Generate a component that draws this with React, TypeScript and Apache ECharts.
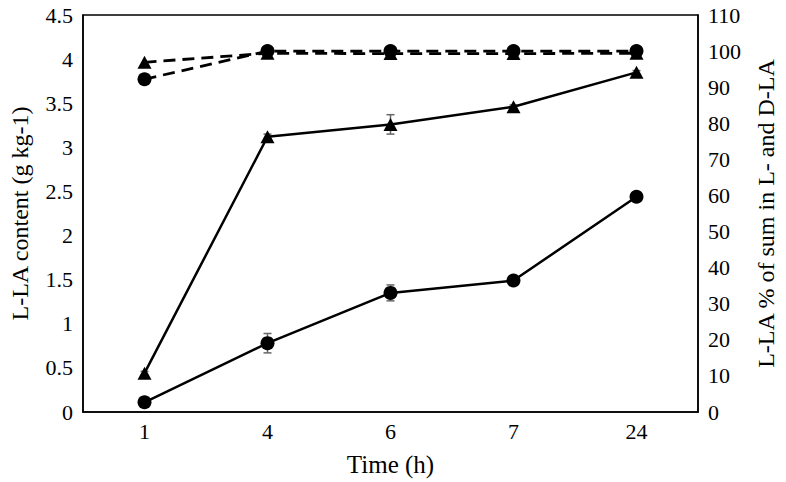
import React, { useEffect, useRef } from "react";
import * as echarts from "echarts";

const categories = ["1", "4", "6", "7", "24"];
const contentTriangle = [0.44, 3.12, 3.26, 3.46, 3.85];
const contentTriangleErr = [0.02, 0.03, 0.11, 0.02, 0.02];
const contentCircle = [0.11, 0.78, 1.35, 1.49, 2.44];
const contentCircleErr = [0.02, 0.11, 0.09, 0.02, 0.02];
const percentTriangle = [96.9, 99.4, 99.3, 99.3, 99.4];
const percentCircle = [92.2, 100.0, 100.0, 100.0, 100.0];

const FONT = "'Liberation Serif', 'Times New Roman', serif";

export default function App() {
  const ref = useRef<HTMLDivElement>(null);
  useEffect(() => {
    if (!ref.current) return;
    const chart = echarts.init(ref.current, null, { renderer: "svg" });
    const errData = (vals: number[], errs: number[]) =>
      vals.map((v, i) => [i, v - errs[i], v + errs[i]]);
    const errSeries = (vals: number[], errs: number[]) => ({
      type: "custom",
      yAxisIndex: 0,
      z: 1,
      silent: true,
      data: errData(vals, errs),
      renderItem: (params: any, api: any) => {
        const x = api.coord([api.value(0), api.value(1)])[0];
        const lo = api.coord([api.value(0), api.value(1)])[1];
        const hi = api.coord([api.value(0), api.value(2)])[1];
        const w = 4;
        const style = { stroke: "#666", lineWidth: 1.5 };
        return {
          type: "group",
          children: [
            { type: "line", shape: { x1: x, y1: lo, x2: x, y2: hi }, style },
            { type: "line", shape: { x1: x - w, y1: lo, x2: x + w, y2: lo }, style },
            { type: "line", shape: { x1: x - w, y1: hi, x2: x + w, y2: hi }, style },
          ],
        };
      },
    });
    const lineBase = {
      type: "line",
      color: "#000",
      z: 3,
    };
    chart.setOption({
      animation: false,
      backgroundColor: "#fff",
      textStyle: { fontFamily: FONT },
      grid: {
        left: 77,
        right: 88,
        top: 15,
        bottom: 69,
        show: true,
        borderColor: "#000",
        borderWidth: 1.5,
      },
      xAxis: {
        type: "category",
        data: categories,
        boundaryGap: true,
        axisLine: { lineStyle: { color: "#000", width: 1.5 } },
        axisTick: { show: false },
        axisLabel: { color: "#000", fontFamily: FONT, fontSize: 22, margin: 8 },
        name: "Time (h)",
        nameLocation: "middle",
        nameGap: 40,
        nameTextStyle: { color: "#000", fontFamily: FONT, fontSize: 25 },
      },
      yAxis: [
        {
          type: "value",
          min: 0,
          max: 4.5,
          interval: 0.5,
          splitLine: { show: false },
          axisLine: { show: true, lineStyle: { color: "#000", width: 1.5 } },
          axisTick: { show: false },
          axisLabel: { color: "#000", fontFamily: FONT, fontSize: 22, margin: 10 },
          name: "L-LA content (g kg-1)",
          nameLocation: "middle",
          nameRotate: 90,
          nameGap: 51,
          nameTextStyle: { color: "#000", fontFamily: FONT, fontSize: 24 },
        },
        {
          type: "value",
          min: 0,
          max: 110,
          interval: 10,
          position: "right",
          splitLine: { show: false },
          axisLine: { show: true, lineStyle: { color: "#000", width: 1.5 } },
          axisTick: { show: false },
          axisLabel: { color: "#000", fontFamily: FONT, fontSize: 22, margin: 10 },
          name: "L-LA % of sum in L- and D-LA",
          nameLocation: "middle",
          nameRotate: 90,
          nameGap: 56,
          nameTextStyle: { color: "#000", fontFamily: FONT, fontSize: 24 },
        },
      ],
      series: [
        errSeries(contentTriangle, contentTriangleErr),
        errSeries(contentCircle, contentCircleErr),
        {
          ...lineBase,
          yAxisIndex: 0,
          data: contentTriangle,
          symbol: "triangle",
          symbolSize: [14, 13],
          lineStyle: { color: "#000", width: 2.5 },
          itemStyle: { color: "#000" },
        },
        {
          ...lineBase,
          yAxisIndex: 0,
          data: contentCircle,
          symbol: "circle",
          symbolSize: 14,
          lineStyle: { color: "#000", width: 2.5 },
          itemStyle: { color: "#000" },
        },
        {
          ...lineBase,
          yAxisIndex: 1,
          data: percentTriangle,
          symbol: "triangle",
          symbolSize: [14, 13],
          lineStyle: { color: "#000", width: 2.8, type: [12, 7] },
          itemStyle: { color: "#000" },
        },
        {
          ...lineBase,
          yAxisIndex: 1,
          data: percentCircle,
          symbol: "circle",
          symbolSize: 14,
          lineStyle: { color: "#000", width: 2.8, type: [12, 7] },
          itemStyle: { color: "#000" },
        },
      ],
    });
    return () => chart.dispose();
  }, []);
  return <div ref={ref} style={{ width: 786, height: 482, position: "absolute", left: 0, top: 0 }} />;
}
